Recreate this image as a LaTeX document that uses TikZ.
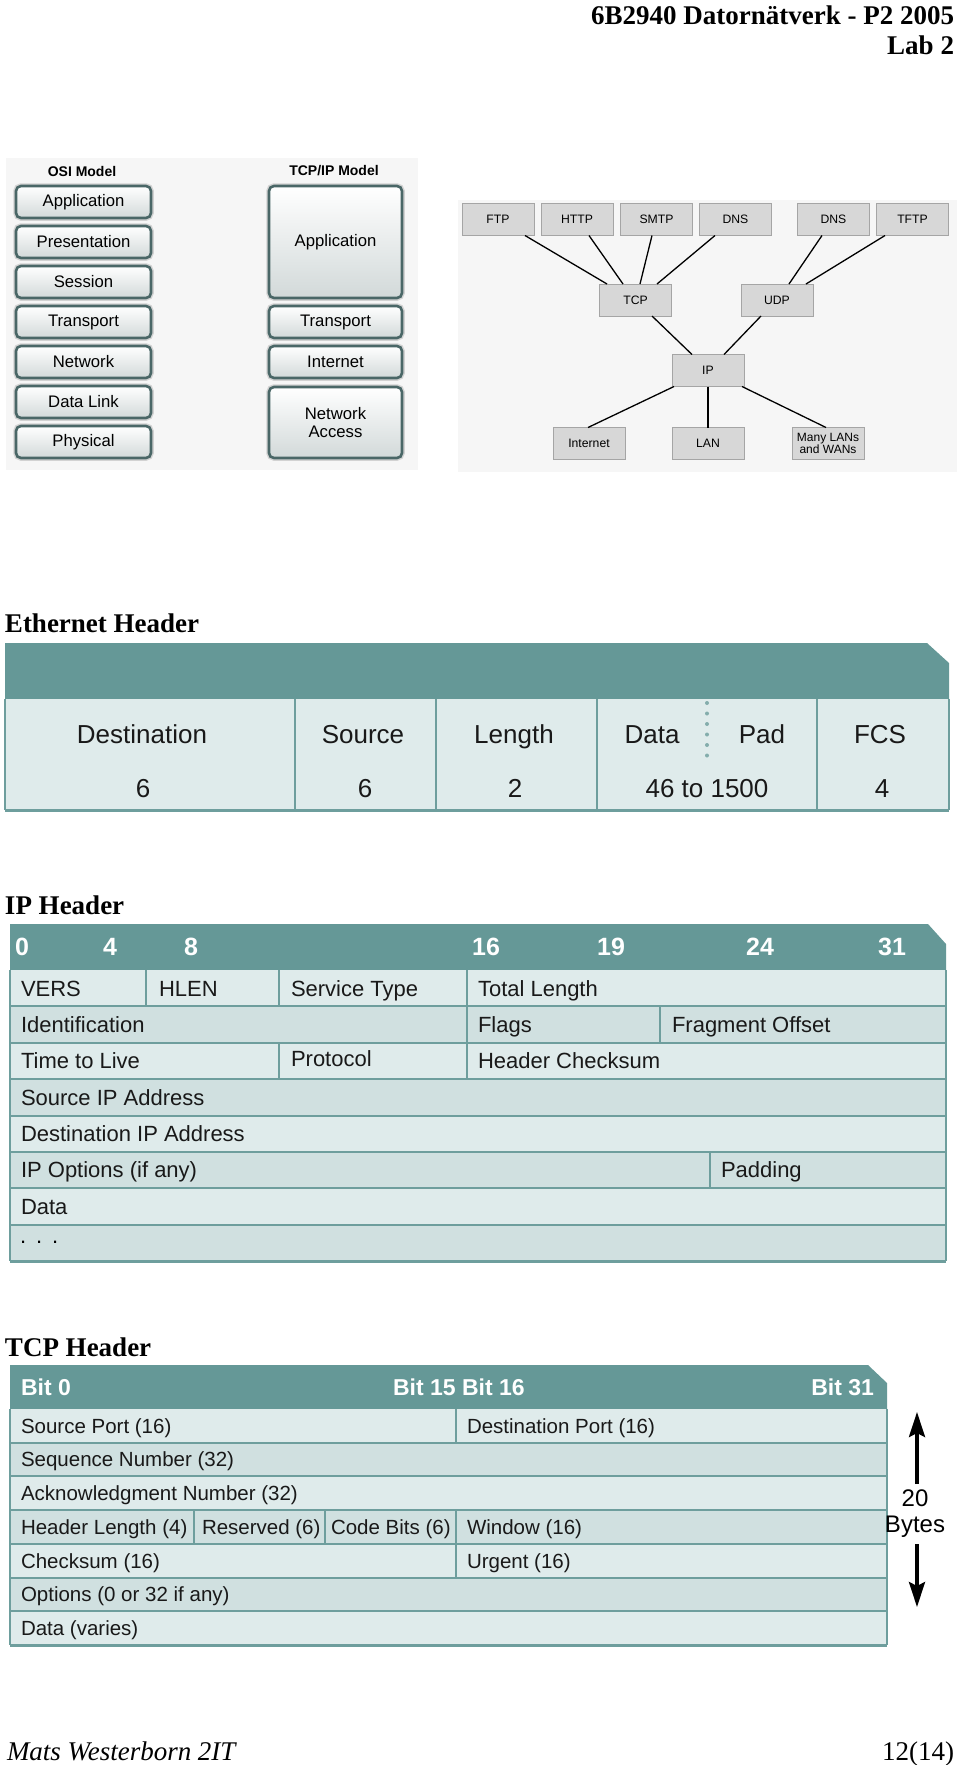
\documentclass[tikz,border=0pt]{standalone}
\usepackage{fontspec}
\setmainfont{Liberation Serif}
\newfontfamily\arial{Liberation Sans}
\usetikzlibrary{calc,arrows.meta}
\newcommand\setfs[1]{\fontsize{#1}{#1}\selectfont}
\definecolor{teal1}{HTML}{659897}
\definecolor{cellA}{HTML}{DFEBEB}
\definecolor{cellB}{HTML}{D0E0E0}
\definecolor{gridc}{HTML}{6E9E9D}
\definecolor{osib}{HTML}{4A6767}
\definecolor{osibot}{HTML}{D2D9D9}
\definecolor{treefill}{HTML}{D7D7D7}
\definecolor{treeline}{HTML}{A5A5A5}
\definecolor{bgpic}{HTML}{F6F6F6}
\begin{document}
\begin{tikzpicture}[x=1pt,y=-1pt,
  every node/.style={inner sep=0pt,outer sep=0pt},
  sectitle/.style={font=\bfseries\setfs{27},anchor=base west},
  osibox/.style={draw=osib,line width=2.6pt,rounded corners=5pt,top color=white,bottom color=osibot,
     preaction={draw=gray!35,line width=5.5pt},font=\arial\setfs{16.7},align=center},
  modeltitle/.style={font=\arial\bfseries\setfs{14}},
  treebox/.style={draw=treeline,line width=0.8pt,fill=treefill,minimum width=72pt,minimum height=32pt,
     font=\arial\setfs{12.2},align=center},
  link/.style={line width=1.3pt,black},
  tabline/.style={draw=gridc,line width=2pt},
  ethtxt/.style={font=\arial\setfs{26},text=black!90,text height=18.6pt,text depth=0pt},
  bandtxt/.style={font=\arial\bfseries\setfs{25},text=white,text height=17.9pt,text depth=0pt},
  iptxt/.style={font=\arial\setfs{22},text=black!90,anchor=west,text height=15.75pt,text depth=0pt},
  tcpband/.style={font=\arial\bfseries\setfs{23},text=white,text height=16.5pt,text depth=0pt},
  tcptxt/.style={font=\arial\setfs{20.5},text=black!90,anchor=west,text height=14.7pt,text depth=0pt},
  bigarrow/.style={line width=3.5pt,-{Stealth[length=25pt,width=16pt,inset=4pt]}}
]
\useasboundingbox (0,0) rectangle (960,1765);
\fill[white] (0,0) rectangle (960,1765);

% page header / footer
\node[font=\bfseries\setfs{27},anchor=base east] (h1) at (954,24) {6B2940 Datornätverk - P2 2005};
\node[font=\bfseries\setfs{27},anchor=base east] (h2) at (954,54) {Lab 2};
\node[font=\itshape\setfs{27},anchor=base west] (f1) at (7,1760) {Mats Westerborn 2IT};
\node[font=\setfs{27},anchor=base east] (f2) at (954,1760) {12(14)};

% ---------------- OSI / TCP-IP models
\fill[bgpic] (6,158) rectangle (418,470);
\node[modeltitle] (osit) at (82,171) {OSI Model};
\node[modeltitle] (tcpipt) at (334,171) {TCP/IP Model};
\foreach \n/\t [count=\i from 0] in {oa/Application,op/Presentation,os/Session,ot/Transport,on/Network,od/Data Link,oph/Physical}{
  \node[osibox,minimum width=135pt,minimum height=32pt] (\n) at (83.5,202+40*\i) {\t};
}
\node[osibox,minimum width=133pt,minimum height=112pt] (ta) at (335.5,242) {Application};
\node[osibox,minimum width=133pt,minimum height=32pt] (tt) at (335.5,322) {Transport};
\node[osibox,minimum width=133pt,minimum height=32pt] (ti) at (335.5,362) {Internet};
\node[osibox,minimum width=133pt,minimum height=71pt] (tn) at (335.5,422.5) {Network\\[1pt]Access};

% ---------------- protocol tree
\fill[bgpic] (458,200) rectangle (957,472);
\node[treebox] (ftp)  at (498,219.5) {FTP};
\node[treebox] (http) at (577,219.5) {HTTP};
\node[treebox] (smtp) at (656.5,219.5) {SMTP};
\node[treebox] (dnsa) at (735.5,219.5) {DNS};
\node[treebox] (dnsb) at (833.5,219.5) {DNS};
\node[treebox] (tftp) at (912.5,219.5) {TFTP};
\node[treebox] (tcp)  at (635.5,300) {TCP};
\node[treebox] (udp)  at (777,300) {UDP};
\node[treebox] (ip)   at (708,370.5) {IP};
\node[treebox] (inet) at (589,443.5) {Internet};
\node[treebox] (lan)  at (708,443.5) {LAN};
\node[treebox,font=\arial\setfs{12}] (many) at (828,443.5) {Many LANs\\and WANs};
\draw[link] ([xshift=27pt]ftp.south) -- ([xshift=-28.5pt]tcp.north);
\draw[link] ([xshift=12pt]http.south) -- ([xshift=-12.5pt]tcp.north);
\draw[link] ([xshift=-4.5pt]smtp.south) -- ([xshift=4.5pt]tcp.north);
\draw[link] ([xshift=-20.5pt]dnsa.south) -- ([xshift=21.5pt]tcp.north);
\draw[link] ([xshift=-11.5pt]dnsb.south) -- ([xshift=12pt]udp.north);
\draw[link] ([xshift=-27.5pt]tftp.south) -- ([xshift=29pt]udp.north);
\draw[link] ([xshift=16.5pt]tcp.south) -- ([xshift=-16pt]ip.north);
\draw[link] ([xshift=-16pt]udp.south) -- ([xshift=16pt]ip.north);
\draw[link] ([xshift=-34pt]ip.south) -- ([xshift=-1pt]inet.north);
\draw[link] (ip.south) -- (lan.north);
\draw[link] ([xshift=34pt]ip.south) -- ([xshift=-2pt]many.north);

% ---------------- Ethernet header
\node[sectitle] (etht) at (5,632) {Ethernet Header};
\fill[teal1] (5,643) -- (927,643) -- (949,663) -- (949,699) -- (5,699) -- cycle;
\fill[cellA] (5,699) rectangle (949,810);
\draw[tabline] (5,699) -- (5,810) (949,699) -- (949,810);
\foreach \x in {295,436,597,817} \draw[tabline] (\x,699) -- (\x,810);
\draw[tabline,line width=3pt] (5,810) -- (949,810);
\draw[gridc!85,line width=4pt,line cap=round,dash pattern=on 0pt off 10.5pt] (707,703) -- (707,756);
\node[ethtxt] (e1) at (142,734) {Destination};
\node[ethtxt] (e2) at (363,734) {Source};
\node[ethtxt] (e3) at (514,734) {Length};
\node[ethtxt] (e4) at (652,734) {Data};
\node[ethtxt] (e5) at (762,734) {Pad};
\node[ethtxt] (e6) at (880,734) {FCS};
\node[ethtxt] (n1) at (143,788) {6};
\node[ethtxt] (n2) at (365,788) {6};
\node[ethtxt] (n3) at (515,788) {2};
\node[ethtxt] (n4) at (707,788) {46 to 1500};
\node[ethtxt] (n5) at (882,788) {4};

% ---------------- IP header
\node[sectitle] (ipt) at (5,914) {IP Header};
\fill[teal1] (10,924) -- (928,924) -- (946,944) -- (946,970) -- (10,970) -- cycle;
\foreach \i/\c in {0/cellA,1/cellB,2/cellA,3/cellB,4/cellA,5/cellB,6/cellA,7/cellB}{
  \fill[\c] (10,{970+36.375*\i}) rectangle (946,{970+36.375*(\i+1)});
}
\foreach \i in {1,...,7} \draw[tabline] (10,{970+36.375*\i}) -- (946,{970+36.375*\i});
\draw[tabline] (10,970) -- (10,1261) (946,970) -- (946,1261);
\draw[tabline,line width=3pt] (10,1261) -- (946,1261);
\foreach \x in {146,279,467} \draw[tabline] (\x,970) -- (\x,1006.4);
\foreach \x in {467,660} \draw[tabline] (\x,1006.4) -- (\x,1042.8);
\foreach \x in {279,467} \draw[tabline] (\x,1042.8) -- (\x,1079.1);
\draw[tabline] (710,1151.9) -- (710,1188.3);
\node[bandtxt] (b0) at (22,947) {0};
\node[bandtxt] (b4) at (110,947) {4};
\node[bandtxt] (b8) at (191,947) {8};
\node[bandtxt] (b16) at (486,947) {16};
\node[bandtxt] (b19) at (611,947) {19};
\node[bandtxt] (b24) at (760,947) {24};
\node[bandtxt] (b31) at (892,947) {31};
\node[iptxt] (i1) at (21,988.2) {VERS};
\node[iptxt] (i2) at (159,988.2) {HLEN};
\node[iptxt] (i3) at (291,988.2) {Service Type};
\node[iptxt] (i4) at (478,988.2) {Total Length};
\node[iptxt] (i5) at (21,1024.6) {Identification};
\node[iptxt] (i6) at (478,1024.6) {Flags};
\node[iptxt] (i7) at (672,1024.6) {Fragment Offset};
\node[iptxt] (i8) at (21,1061) {Time to Live};
\node[iptxt] (i9) at (291,1059) {Protocol};
\node[iptxt] (i10) at (478,1061) {Header Checksum};
\node[iptxt] (i11) at (21,1097.3) {Source IP Address};
\node[iptxt] (i12) at (21,1133.7) {Destination IP Address};
\node[iptxt] (i13) at (21,1170.1) {IP Options (if any)};
\node[iptxt] (i14) at (721,1170.1) {Padding};
\node[iptxt] (i15) at (21,1206.4) {Data};
\node[font=\arial\setfs{22},anchor=base west] (i16) at (20,1243) {.\hspace{10pt}.\hspace{10pt}.};

% ---------------- TCP header
\node[sectitle] (tcpt) at (5,1356) {TCP Header};
\fill[teal1] (10,1365) -- (868,1365) -- (887,1383) -- (887,1409) -- (10,1409) -- cycle;
\foreach \i/\c in {0/cellA,1/cellB,2/cellA,3/cellB,4/cellA,5/cellB,6/cellA}{
  \fill[\c] (10,{1409+33.714*\i}) rectangle (887,{1409+33.714*(\i+1)});
}
\foreach \i in {1,...,6} \draw[tabline] (10,{1409+33.714*\i}) -- (887,{1409+33.714*\i});
\draw[tabline] (10,1409) -- (10,1645) (887,1409) -- (887,1645);
\draw[tabline,line width=3pt] (10,1645) -- (887,1645);
\draw[tabline] (456,1409) -- (456,1442.7);
\foreach \x in {194,325,456} \draw[tabline] (\x,1510.1) -- (\x,1543.9);
\draw[tabline] (456,1543.9) -- (456,1577.6);
\node[tcpband,anchor=west] (tb0) at (21,1387) {Bit 0};
\node[tcpband,anchor=west] (tb15) at (393,1387) {Bit 15 Bit 16};
\node[tcpband,anchor=east] (tb31) at (874,1387) {Bit 31};
\node[tcptxt] (t1) at (21,1425.9) {Source Port (16)};
\node[tcptxt] (t2) at (467,1425.9) {Destination Port (16)};
\node[tcptxt] (t3) at (21,1459.6) {Sequence Number (32)};
\node[tcptxt] (t4) at (21,1493.3) {Acknowledgment Number (32)};
\node[tcptxt] (t5) at (21,1527) {Header Length (4)};
\node[tcptxt] (t6) at (202,1527) {Reserved (6)};
\node[tcptxt] (t7) at (331,1527) {Code Bits (6)};
\node[tcptxt] (t8) at (467,1527) {Window (16)};
\node[tcptxt] (t9) at (21,1560.7) {Checksum (16)};
\node[tcptxt] (t10) at (467,1560.7) {Urgent (16)};
\node[tcptxt] (t11) at (21,1594.4) {Options (0 or 32 if any)};
\node[tcptxt] (t12) at (21,1628.1) {Data (varies)};
\node[font=\arial\setfs{24},align=center] (bytes) at (915,1514) {20\\[2pt]Bytes};
\coordinate (upS) at (917,1484);
\coordinate (upT) at (917,1412);
\coordinate (dnS) at (917,1544);
\coordinate (dnT) at (917,1607);
\draw[bigarrow] (upS) -- (upT);
\draw[bigarrow] (dnS) -- (dnT);
\end{tikzpicture}
\end{document}
